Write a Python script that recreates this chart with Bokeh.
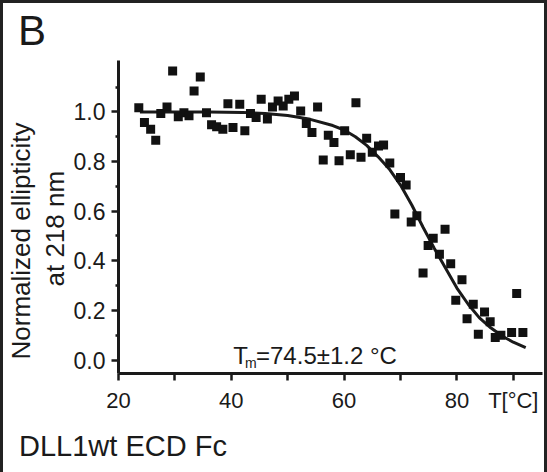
from bokeh.plotting import figure
from bokeh.models import (FixedTicker, PrintfTickFormatter, Label, Range1d,
                          Title)
from bokeh.embed import file_html
from bokeh.resources import INLINE

# ---- data ----
temp = [23.6, 24.6, 25.7, 26.6, 27.5, 28.6, 29.6, 30.6, 31.6, 32.5, 33.4, 34.5,
        35.6, 36.5, 37.4, 38.5, 39.4, 40.3, 41.5, 42.4, 43.4, 44.4, 45.3, 46.4,
        47.3, 48.3, 49.2, 50.2, 51.2, 52.3, 53.3, 54.3, 55.3, 56.3, 57.2, 58.2,
        59.1, 60.1, 61.1, 62.1, 63.0, 64.0, 65.0, 66.1, 67.0, 68.1, 69.0, 70.0,
        71.0, 71.9, 72.9, 74.0, 74.9, 75.8, 76.9, 77.9, 78.9, 79.8, 80.9, 81.8,
        82.9, 83.8, 84.9, 85.9, 86.8, 87.8, 89.7, 90.6, 91.7]
ellip = [1.017, 0.957, 0.930, 0.886, 0.993, 1.020, 1.165, 0.980, 0.997, 0.984,
         1.084, 1.141, 0.997, 0.948, 0.940, 0.930, 1.033, 0.937, 1.031, 0.924,
         0.993, 0.977, 1.051, 0.971, 1.020, 1.044, 1.024, 1.051, 1.064, 1.004,
         0.953, 0.917, 1.020, 0.806, 0.906, 0.877, 0.803, 0.924, 0.827, 1.037,
         0.817, 0.894, 0.837, 0.863, 0.867, 0.794, 0.589, 0.736, 0.705, 0.556,
         0.582, 0.351, 0.462, 0.491, 0.426, 0.527, 0.388, 0.241, 0.324, 0.167,
         0.225, 0.104, 0.194, 0.154, 0.091, 0.100, 0.111, 0.268, 0.111]

fit_t = [23.8, 30, 36, 42, 46, 50, 54, 58, 60, 62, 64, 66, 68, 70, 72, 74, 76,
         78, 80, 82, 84, 86, 88, 90, 92.2]
fit_y = [1.0, 1.0, 1.0, 0.998, 0.993, 0.985, 0.97, 0.945, 0.927, 0.90, 0.865,
         0.82, 0.77, 0.705, 0.625, 0.535, 0.45, 0.37, 0.29, 0.225, 0.17, 0.13,
         0.097, 0.072, 0.05]

x_ticks = [20, 30, 40, 50, 60, 70, 80, 90]
x_tick_text = {30: "", 50: "", 70: "", 90: "T[°C]"}
y_ticks = [0.0, 0.2, 0.4, 0.6, 0.8, 1.0]
y_minor = [0.1, 0.3, 0.5, 0.7, 0.9, 1.1]

panel_letter = "B"
sample_name = "DLL1wt ECD Fc"
y_title = ["Normalized ellipticity", "at 218 nm"]
tm_text = ["T", "m", "=74.5±1.2 °C"]

# ---- layout geometry (page pixels) ----
W, H = 547, 472
FL, FT, FR, FB = 118, 60, 542, 373      # frame edges
X0, X1 = 20, 20 + (FR - FL) / 5.64
Y0, Y1 = -0.054, 1.207


def dx(px):
    return X0 + (px - FL) * (X1 - X0) / (FR - FL)


def dy(py):
    return Y0 + (FB - py) * (Y1 - Y0) / (FB - FT)


INK = "#1a1a1a"
FONT = "Liberation Sans"

p = figure(width=W, height=H, output_backend="svg", toolbar_location=None,
           x_range=Range1d(X0, X1), y_range=Range1d(Y0, Y1),
           min_border_left=FL, min_border_right=W - FR,
           min_border_top=FT, min_border_bottom=H - FB,
           styles={"box-shadow": "inset 3px 3px 0 0 #222222, inset -3px 0 0 0 #222222"})
p.outline_line_color = None
p.xgrid.visible = False
p.ygrid.visible = False
p.background_fill_color = None
p.border_fill_color = None

for ax in (p.xaxis[0], p.yaxis[0]):
    ax.axis_line_width = 3
    ax.axis_line_color = INK
    ax.major_tick_line_width = 2.5
    ax.major_tick_line_color = INK
    ax.major_tick_in = 0
    ax.major_tick_out = 7
    ax.major_label_text_font = FONT
    ax.major_label_text_color = INK

p.xaxis.major_label_text_font_size = "22px"
p.yaxis.major_label_text_font_size = "23px"
p.xaxis.ticker = FixedTicker(ticks=x_ticks)
p.xaxis.major_label_overrides = x_tick_text
p.xaxis.major_label_standoff = 7
p.xaxis.minor_tick_line_color = None

p.yaxis.ticker = FixedTicker(ticks=y_ticks, minor_ticks=y_minor)
p.yaxis.formatter = PrintfTickFormatter(format="%.1f")
p.yaxis.major_label_standoff = 6
p.yaxis.minor_tick_in = 0
p.yaxis.minor_tick_out = 3
p.yaxis.minor_tick_line_width = 2.5
p.yaxis.minor_tick_line_color = INK


def side_title(text, size, offset, standoff, side, valign="bottom"):
    t = Title(text=text, align="left", offset=offset, text_font=FONT,
              text_font_size=f"{size}px", text_font_style="normal",
              text_color=INK, standoff=standoff, vertical_align=valign)
    p.add_layout(t, side)
    return t


# y-axis title, two lines stacked outward from the axis
side_title(y_title[1], 26, FB - 286, 2, "left")
side_title(y_title[0], 26, FB - 359, 2, "left")
# small spacer between the x axis and the sample name
side_title(" ", 1, 0, 4, "below")
# sample name below the x axis
side_title(sample_name, 29, 18.5 - FL, 10, "below")

# panel letter
p.title = Title(text=panel_letter, align="left", offset=17.5 - FL,
                text_font=FONT, text_font_size="42px",
                text_font_style="normal", text_color=INK, standoff=10,
                vertical_align="top", text_line_height=0.8)

p.line(fit_t, fit_y, line_color=INK, line_width=3)
p.scatter(temp, ellip, marker="square", size=9, fill_color="#111111",
          line_color=None)


def lab(txt, px, py, size):
    p.add_layout(Label(x=dx(px), y=dy(py), text=txt, text_font=FONT,
                       text_font_size=f"{size}px", text_color=INK,
                       text_align="left", text_baseline="alphabetic"))


lab(tm_text[0], 232.8, 355, 24)
lab(tm_text[1], 244.5, 362.3, 14)
lab(tm_text[2], 255.5, 355, 24)

open("out.html", "w").write(file_html(p, INLINE))
